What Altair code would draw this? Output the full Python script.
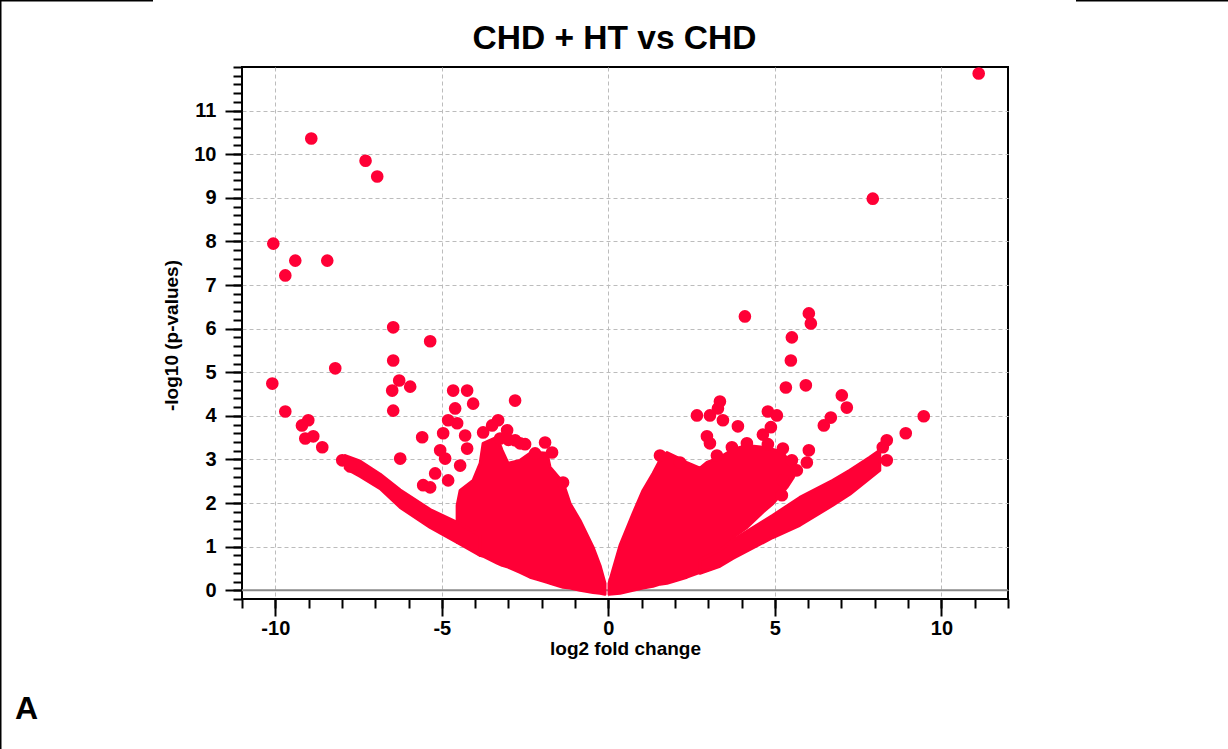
import altair as alt
import pandas as pd

FONT = "Liberation Sans"
RED = "#FF0036"

# ---- axes -------------------------------------------------------------
X_DOMAIN = [-11, 12]
Y_DOMAIN = [-0.2, 12]
X_MAJOR = [-10, -5, 0, 5, 10]
X_MINOR = list(range(-11, 13))
Y_MAJOR = list(range(0, 12))
Y_MINOR = [round(-0.2 + 0.2 * i, 1) for i in range(62)]

# ---- dense filled regions (log2 FC, lower / upper -log10 p edge) ------
LEFT_CORE_X = [-4.54, -4.45, -4.06, -3.85, -3.76, -3.34, -3.19, -3.01, -2.65, -2.35,
               -2.14, -1.84, -1.75, -1.36, -1.15, -0.85, -0.46, -0.25, -0.10]
LEFT_CORE_LOW = [1.10, 1.08, 0.92, 0.80, 0.78, 0.62, 0.57, 0.53, 0.41, 0.30,
                 0.25, 0.18, 0.16, 0.07, 0.05, 0.00, -0.05, -0.07, -0.09]
LEFT_CORE_HIGH = [1.95, 2.29, 2.52, 2.91, 3.37, 3.51, 3.21, 2.91, 2.98, 3.14,
                  3.16, 3.14, 2.82, 2.47, 1.99, 1.60, 0.99, 0.57, 0.16]

LEFT_BAND_X = [-7.90, -7.45, -6.85, -6.25, -5.35, -4.54, -3.85]
LEFT_BAND_LOW = [2.80, 2.61, 2.33, 1.90, 1.44, 1.10, 0.80]
LEFT_BAND_HIGH = [3.09, 2.96, 2.66, 2.30, 1.85, 1.56, 1.26]

RIGHT_CORE_X = [0.02, 0.35, 0.74, 1.04, 1.34, 1.55, 1.76, 2.06, 2.36, 2.75,
                2.96, 3.35, 3.74, 4.16, 4.64, 4.94, 5.24, 5.36, 5.54, 5.66]
RIGHT_CORE_LOW = [-0.09, -0.07, 0.00, 0.05, 0.09, 0.14, 0.16, 0.23, 0.30, 0.41,
                  0.46, 0.57, 1.21, 1.44, 1.79, 1.99, 2.25, 2.36, 2.57, 2.75]
RIGHT_CORE_HIGH = [0.16, 1.03, 1.76, 2.29, 2.68, 2.98, 3.16, 3.05, 2.93, 2.80,
                   2.93, 3.05, 3.23, 3.32, 3.28, 3.23, 3.16, 3.02, 2.91, 2.75]

RIGHT_BAND_X = [2.75, 3.35, 3.74, 4.94, 5.75, 6.74, 7.25, 7.85, 8.15]
RIGHT_BAND_LOW = [0.39, 0.55, 0.73, 1.21, 1.49, 1.95, 2.20, 2.57, 2.75]
RIGHT_BAND_HIGH = [0.69, 0.92, 1.15, 1.72, 2.13, 2.52, 2.75, 3.05, 3.21]

# ---- individually visible genes --------------------------------------
POINT_X = [
    -8.92, -7.29, -6.94, -10.06, -9.40, -9.70, -8.44, -6.46, -5.35, -8.20,
    -6.46, -10.09, -6.28, -5.95, -6.49, -6.46, -9.70, -9.01, -9.20, -9.10,
    -8.86, -8.59, -7.99, -7.75, -4.66, -4.24, -4.06, -4.60, -4.81, -4.54,
    -4.96, -4.30, -5.59, -5.05, -4.24, -6.25, -4.90, -2.80, -3.31, -3.49,
    -3.04, -3.76, -3.25, -2.80, -2.65, -2.50, -1.90, -1.69, -2.20, -1.36,
    -4.45, -5.20, -5.56, -4.81, -5.35, -3.00,
    11.12, 7.94, 9.47, 8.93, 8.36, 8.24, 8.36, 7.01, 7.16, 6.68,
    6.47, 6.02, 6.08, 5.51, 5.48, 5.33, 5.93, 4.10, 6.02, 5.96,
    4.79, 5.06, 4.88, 4.64, 2.66, 3.05, 3.35, 3.29, 3.44, 3.89,
    2.96, 3.05, 5.24, 1.55, 2.15, 3.26, 3.71, 4.16, 4.79, 5.51,
    5.66, 5.24, 5.21,
]
POINT_Y = [
    10.36, 9.85, 9.49, 7.95, 7.56, 7.22, 7.56, 6.03, 5.71, 5.09,
    5.27, 4.74, 4.81, 4.67, 4.58, 4.12, 4.10, 3.90, 3.78, 3.48,
    3.53, 3.28, 2.98, 2.84, 4.58, 4.58, 4.28, 4.17, 3.90, 3.83,
    3.60, 3.55, 3.51, 3.21, 3.25, 3.02, 3.02, 4.35, 3.90, 3.78,
    3.67, 3.62, 3.48, 3.44, 3.37, 3.35, 3.39, 3.16, 3.14, 2.47,
    2.86, 2.68, 2.41, 2.52, 2.36, 3.45,
    11.85, 8.98, 3.99, 3.60, 3.44, 3.28, 2.98, 4.47, 4.19, 3.96,
    3.78, 6.35, 6.12, 5.80, 5.27, 4.65, 4.70, 6.28, 3.21, 2.93,
    4.10, 4.01, 3.74, 3.57, 4.01, 4.01, 4.33, 4.17, 3.90, 3.76,
    3.53, 3.37, 3.25, 3.09, 2.93, 3.09, 3.28, 3.37, 3.35, 2.98,
    2.75, 2.52, 2.18,
]

TITLE = "CHD + HT vs CHD"
X_TITLE = "log2 fold change"
Y_TITLE = "-log10 (p-values)"
PANEL_LABEL = "A"

# ---- build tables ----------------------------------------------------
rows = []
for g, xs_, lo_, hi_ in [
    ("left_core", LEFT_CORE_X, LEFT_CORE_LOW, LEFT_CORE_HIGH),
    ("left_band", LEFT_BAND_X, LEFT_BAND_LOW, LEFT_BAND_HIGH),
    ("right_core", RIGHT_CORE_X, RIGHT_CORE_LOW, RIGHT_CORE_HIGH),
    ("right_band", RIGHT_BAND_X, RIGHT_BAND_LOW, RIGHT_BAND_HIGH),
]:
    for a, b, c in zip(xs_, lo_, hi_):
        rows.append({"group": g, "lfc": a, "lo": b, "hi": c})
areas_df = pd.DataFrame(rows)
points_df = pd.DataFrame({"lfc": POINT_X, "nlp": POINT_Y})
zero_df = pd.DataFrame({"nlp": [0]})
one_df = pd.DataFrame({"k": [0]})

W, H = 766, 532
xs = alt.Scale(domain=X_DOMAIN, nice=False, zero=False)
ys = alt.Scale(domain=Y_DOMAIN, nice=False, zero=False)

HYPHEN_LABEL = "datum.value < 0 ? '-' + format(abs(datum.value), 'd') : format(datum.value, 'd')"

x_minor = alt.Axis(orient="bottom", values=X_MINOR, tickSize=9, tickWidth=2,
                   tickColor="black", labels=False, grid=False, domain=False,
                   title=None)
y_minor = alt.Axis(orient="left", values=Y_MINOR, tickSize=9, tickWidth=2,
                   tickColor="black", labels=False, grid=False, domain=False,
                   title=None)
x_major = alt.Axis(orient="bottom", values=X_MAJOR, tickSize=17, tickWidth=2,
                   tickColor="black", domain=False, grid=True, gridDash=[4, 3],
                   gridColor="#bcbcbc", gridWidth=1,
                   labelFont=FONT, labelFontSize=20, labelFontWeight="bold",
                   labelColor="black", labelPadding=2, labelExpr=HYPHEN_LABEL,
                   title=X_TITLE, titleFont=FONT, titleFontSize=19,
                   titleFontWeight="bold", titleColor="black",
                   titleBaseline="top", titleY=40)
y_major = alt.Axis(orient="left", values=Y_MAJOR, tickSize=17, tickWidth=2,
                   tickColor="black", domain=False, grid=True, gridDash=[4, 3],
                   gridColor="#bcbcbc", gridWidth=1,
                   labelFont=FONT, labelFontSize=20, labelFontWeight="bold",
                   labelColor="black", labelPadding=9, labelExpr=HYPHEN_LABEL,
                   title=Y_TITLE, titleFont=FONT, titleFontSize=19,
                   titleFontWeight="bold", titleColor="black",
                   titleAngle=270, titleAlign="center", titleBaseline="bottom",
                   titleX=-61, titleY=268)

zero = alt.Chart(zero_df).mark_rule(color="#8a8a8a", strokeWidth=2).encode(
    y=alt.Y("nlp:Q", scale=ys, axis=None)
)

areas = alt.Chart(areas_df).mark_area(
    color=RED, opacity=1, orient="vertical",
    stroke=RED, strokeWidth=3, strokeJoin="round"
).encode(
    x=alt.X("lfc:Q", scale=xs, axis=x_minor),
    y=alt.Y("lo:Q", scale=ys, axis=y_minor),
    y2="hi:Q",
    detail="group:N",
)

points = alt.Chart(points_df).mark_circle(size=160, color=RED, opacity=1).encode(
    x=alt.X("lfc:Q", scale=xs, axis=x_major),
    y=alt.Y("nlp:Q", scale=ys, axis=y_major),
)

title = alt.Chart(one_df).mark_text(
    text=TITLE, font=FONT, fontSize=33.5, fontWeight="bold", color="black",
    align="center", baseline="alphabetic"
).encode(x=alt.value(372.5), y=alt.value(-18))

panel = alt.Chart(one_df).mark_text(
    text=PANEL_LABEL, font=FONT, fontSize=32, fontWeight="bold", color="black",
    align="center", baseline="alphabetic"
).encode(x=alt.value(-215.5), y=alt.value(652))

frame_tl = alt.Chart(one_df).mark_rule(color="black", strokeWidth=3).encode(
    x=alt.value(-242), x2=alt.value(-89), y=alt.value(-67), y2=alt.value(-67))
frame_tr = alt.Chart(one_df).mark_rule(color="black", strokeWidth=3).encode(
    x=alt.value(834), x2=alt.value(986), y=alt.value(-67), y2=alt.value(-67))
frame_l = alt.Chart(one_df).mark_rule(color="black", strokeWidth=3).encode(
    x=alt.value(-242), x2=alt.value(-242), y=alt.value(-67), y2=alt.value(682))

chart = alt.layer(
    zero, areas, points, title, panel, frame_tl, frame_tr, frame_l
).resolve_axis(
    x="independent", y="independent"
).properties(
    width=W, height=H,
    autosize=alt.AutoSizeParams(type="none"),
    padding={"left": 242, "top": 67, "right": 220, "bottom": 150},
).configure(
    background="white"
).configure_view(
    stroke="black", strokeWidth=2
)

chart.save("out.html", embed_options={"renderer": "svg", "actions": False})
